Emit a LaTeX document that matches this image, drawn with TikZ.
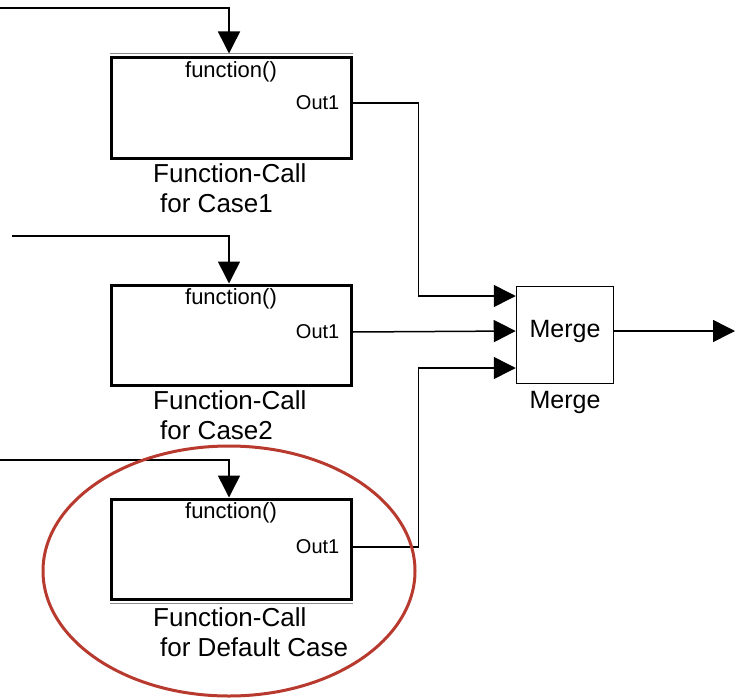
\documentclass[tikz,border=0pt]{standalone}
\usepackage{fontspec}
\setmainfont{Liberation Sans}
\usetikzlibrary{arrows.meta}
\definecolor{ringred}{RGB}{184,58,46}
\begin{document}
\begin{tikzpicture}[x=1pt,y=-1pt,
  fcbox/.style={draw=black,line width=3pt,minimum width=240pt,minimum height=100pt,inner sep=0pt},
  mergebox/.style={draw=black,line width=1.5pt,minimum width=97pt,minimum height=97pt,inner sep=0pt},
  sig/.style={line width=1.5pt,-{Triangle[length=22pt,width=22pt]}},
  small/.style={font=\fontsize{20}{24}\selectfont,inner sep=0pt},
  fn/.style={font=\fontsize{22}{24}\selectfont,inner sep=0pt,anchor=north},
  big/.style={font=\fontsize{25}{30}\selectfont,inner sep=2pt},
  caption/.style={font=\fontsize{26}{30}\selectfont,align=left,anchor=north west,inner sep=2pt},
  edgeline/.style={draw=black!45,line width=1pt},
  ring/.style={draw=ringred,line width=3pt}]
  \useasboundingbox (0,0) rectangle (735,698);
  \node[fcbox] (case1) at (231,108) {};
  \node[fcbox] (case2) at (231,335) {};
  \node[fcbox] (casedef) at (231,549) {};
  \node[mergebox] (merge) at (565,335) {};
  \node[big] (mergetxt) at ([yshift=4pt]merge.center) {Merge};
  \draw[edgeline] ([yshift=3pt]case1.north west) -- ([yshift=3pt]case1.north east);
  \draw[edgeline] ([yshift=-3pt]casedef.south west) -- ([yshift=-3pt]casedef.south east);
  \node[fn] at ([yshift=-5pt]case1.north) {function()};
  \node[fn] at ([yshift=-5pt]case2.north) {function()};
  \node[fn] at ([yshift=-5pt]casedef.north) {function()};
  \node[small,anchor=east] at ([xshift=-13pt,yshift=5pt]case1.east) {Out1};
  \node[small,anchor=east] at ([xshift=-13pt,yshift=3pt]case2.east) {Out1};
  \node[small,anchor=east] at ([xshift=-13pt,yshift=2pt]casedef.east) {Out1};
  \node[caption] (cap1) at ([xshift=-80pt,yshift=-2pt]case1.south) {Function-Call\\\hspace*{7pt}for Case1};
  \node[caption] (cap2) at ([xshift=-80pt,yshift=-2pt]case2.south) {Function-Call\\\hspace*{7pt}for Case2};
  \node[caption] (capdef) at ([xshift=-80pt,yshift=-5pt]casedef.south) {Function-Call\\\hspace*{7pt}for Default Case};
  \node[big,anchor=north] (capmerge) at ([yshift=-5pt]merge.south) {Merge};
  \coordinate (src1) at (0,8);
  \coordinate (src2) at (12,236);
  \coordinate (src3) at (0,460);
  \coordinate (in1) at ([yshift=39pt]merge.west);
  \coordinate (in2) at ([yshift=4pt]merge.west);
  \coordinate (in3) at ([yshift=-33pt]merge.west);
  \coordinate (out) at (735,331);
  \draw[sig] (src1) -| ([xshift=-2pt,yshift=3pt]case1.north);
  \draw[sig] (src2) -| ([xshift=-2pt]case2.north);
  \draw[sig] (src3) -| ([xshift=-2pt]casedef.north);
  \draw[sig] ([yshift=5pt]case1.east) -- ++(66,0) |- (in1);
  \draw[sig] ([yshift=3pt]case2.east) -- (in2);
  \draw[sig] ([yshift=2pt]casedef.east) -- ++(66,0) |- (in3);
  \draw[sig] (merge.east |- in2) -- (out);
  \draw[ring] (229,571) ellipse [x radius=186,y radius=125];
\end{tikzpicture}
\end{document}
